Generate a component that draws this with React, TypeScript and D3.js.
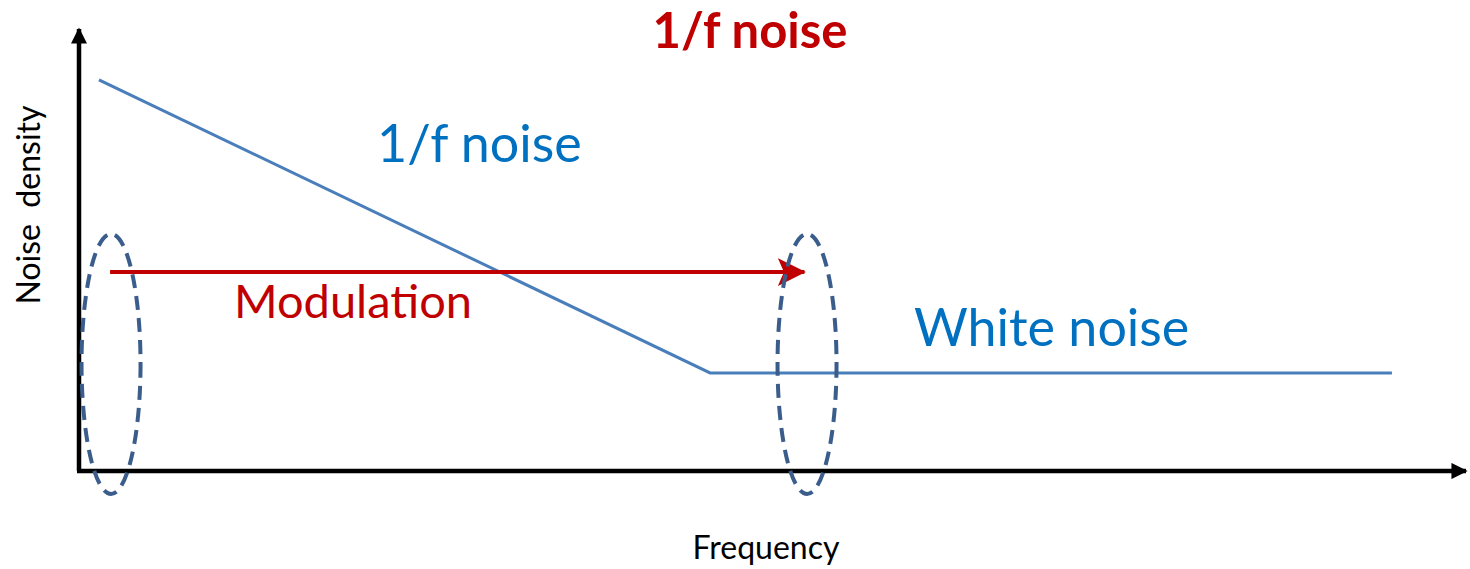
import React from "react";
import * as d3 from "d3";

// Noise spectrum: 1/f region falling into a flat white-noise floor
const spectrumFreq = [0.0144, 0.455, 0.9466];
const spectrumDensity = [0.885, 0.222, 0.222];

// Modulation shifts the signal from low frequency up past the corner
const modulationFreq = [0.0224, 0.523];
const modulationDensity = 0.45;

// Signal bands (ellipses) before and after modulation
const bandFreq = [0.0231, 0.5249];
const bandDensity = 0.24;

const W = 1470;
const H = 569;

export default function App() {
  const x = d3.scaleLinear().domain([0, 1]).range([79, 1466]);
  const y = d3.scaleLinear().domain([0, 1]).range([471, 29]);

  const line = d3
    .line<number>()
    .x((_, i) => x(spectrumFreq[i]))
    .y((d) => y(d));

  const blue = "#4a7ebb";
  const textBlue = "#0070c0";
  const red = "#c00000";
  const navy = "#3a5d8c";
  const font = "Lato, 'Open Sans', sans-serif";

  return (
    <svg
      width={W}
      height={H}
      style={{ position: "absolute", left: 0, top: 0, background: "#fff" }}
    >
      <defs>
        <marker id="axisHead" viewBox="0 0 10 10" refX="9" refY="5" markerWidth="4.2" markerHeight="3.6" orient="auto" markerUnits="strokeWidth">
          <path d="M0,0 L10,5 L0,10 z" fill="#000" />
        </marker>
        <marker id="redHead" viewBox="0 0 10 10" refX="9.5" refY="5" markerWidth="7" markerHeight="7" orient="auto" markerUnits="strokeWidth">
          <path d="M0,0 L10,5 L0,10 L2.2,5 z" fill={red} />
        </marker>
      </defs>

      {/* axes */}
      <line x1={x(0)} y1={y(0)} x2={x(0)} y2={y(1)} stroke="#000" strokeWidth={4.5} markerEnd="url(#axisHead)" />
      <line x1={x(0) - 2} y1={y(0)} x2={x(1)} y2={y(0)} stroke="#000" strokeWidth={4.5} markerEnd="url(#axisHead)" />

      {/* spectrum */}
      <path d={line(spectrumDensity) ?? ""} fill="none" stroke={blue} strokeWidth={3} />

      {/* modulation arrow */}
      <line
        x1={x(modulationFreq[0])}
        y1={y(modulationDensity)}
        x2={x(modulationFreq[1])}
        y2={y(modulationDensity)}
        stroke={red}
        strokeWidth={4}
        markerEnd="url(#redHead)"
      />

      {/* signal bands */}
      {bandFreq.map((f, i) => (
        <ellipse
          key={i}
          cx={x(f)}
          cy={y(bandDensity) - 1}
          rx={29.5}
          ry={130}
          fill="none"
          stroke={navy}
          strokeWidth={4}
          strokeDasharray="14 8"
        />
      ))}

      {/* labels */}
      <text x={750} y={48} textAnchor="middle" fill={red} fontFamily={font} fontWeight="bold" fontSize={49}>
        1/f noise
      </text>
      <text x={377} y={162} fill={textBlue} fontFamily={font} fontSize={52}>
        1/f noise
      </text>
      <text x={234} y={318} fill={red} fontFamily={font} fontSize={47}>
        Modulation
      </text>
      <text x={914} y={346} fill={textBlue} fontFamily={font} fontSize={52}>
        White noise
      </text>
      <text x={766} y={559} textAnchor="middle" fill="#000" fontFamily={font} fontSize={32}>
        Frequency
      </text>
      <text
        transform={`translate(40,205) rotate(-90)`}
        textAnchor="middle"
        fill="#000"
        fontFamily={font}
        fontSize={32}
        style={{ whiteSpace: "pre" }}
      >
        {"Noise  density"}
      </text>
    </svg>
  );
}
